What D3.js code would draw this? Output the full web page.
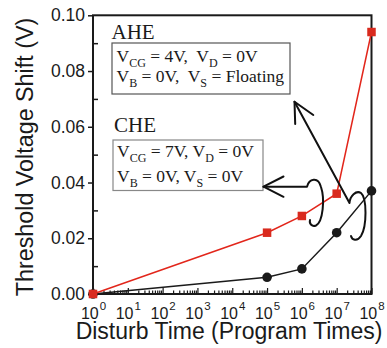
<!DOCTYPE html>
<html>
<head>
<meta charset="utf-8">
<script src="https://cdn.jsdelivr.net/npm/d3@7/dist/d3.min.js"></script>
<style>
  html, body { margin: 0; padding: 0; background: #fff; }
  svg { display: block; }
  text { white-space: pre; }
</style>
</head>
<body>
<svg id="chart" width="387" height="348"></svg>
<script>
// Disturb time (number of program operations) for each measurement
const disturbTimes = [1, 1e5, 1e6, 1e7, 1e8];
// Threshold voltage shift (V) under anode hot-electron (AHE) disturb
const aheShift = [0.000, 0.022, 0.028, 0.036, 0.094];
// Threshold voltage shift (V) under channel hot-electron (CHE) disturb
const cheShift = [0.000, 0.006, 0.009, 0.022, 0.037];
// Axis ticks
const xDecades = [0, 1, 2, 3, 4, 5, 6, 7, 8];
const yMajorTicks = [0.00, 0.02, 0.04, 0.06, 0.08, 0.10];
const yMinorTicks = [0.01, 0.03, 0.05, 0.07, 0.09];

const W = 387, H = 348;
const margin = { left: 93, right: 15.5, top: 15.3, bottom: 54 };
const plotW = W - margin.left - margin.right;
const plotH = H - margin.top - margin.bottom;

const svg = d3.select("#chart");
const g = svg.append("g").attr("transform", `translate(${margin.left},${margin.top})`);

const x = d3.scaleLog().domain([1, 1e8]).range([0, plotW]);
const y = d3.scaleLinear().domain([0, 0.10]).range([plotH, 0]);

const axisColor = "#1a1a1a";
const sans = "'Liberation Sans', Arial, Helvetica, sans-serif";
const serif = "'Liberation Serif', 'Times New Roman', Times, serif";

// Bottom axis: major decade ticks and minor ticks, all pointing inward
const minorX = [];
for (let d = 0; d < 8; d++) for (let k = 2; k <= 9; k++) minorX.push(k * Math.pow(10, d));

const xMajorAxis = d3.axisBottom(x)
  .tickValues(xDecades.map(d => Math.pow(10, d)))
  .tickSizeInner(-6).tickSizeOuter(0).tickFormat("");
const xMinorAxis = d3.axisBottom(x)
  .tickValues(minorX).tickSizeInner(-3.5).tickSizeOuter(0).tickFormat("");

const gxMinor = g.append("g").attr("transform", `translate(0,${plotH})`).call(xMinorAxis);
const gxMajor = g.append("g").attr("transform", `translate(0,${plotH})`).call(xMajorAxis);
[gxMinor, gxMajor].forEach(a => {
  a.select(".domain").remove();
  a.selectAll(".tick line").attr("stroke", axisColor).attr("stroke-width", 1.2);
});

// Decade labels written as 10 with a superscript exponent
const xLabels = g.append("g").attr("font-family", sans);
xDecades.forEach(d => {
  const t = xLabels.append("text")
    .attr("x", x(Math.pow(10, d)) + 0.5)
    .attr("y", plotH + 25)
    .attr("text-anchor", "middle")
    .attr("fill", "#1a1a1a");
  t.append("tspan").attr("font-size", 16).text("10");
  t.append("tspan").attr("font-size", 11.5).attr("dy", -9).attr("dx", 1).text(String(d));
});

// Left axis: outward major ticks with labels, inward minor ticks
const yMajorAxis = d3.axisLeft(y).tickValues(yMajorTicks)
  .tickSizeInner(5).tickSizeOuter(0).tickPadding(3).tickFormat(d3.format(".2f"));
const yMinorAxis = d3.axisLeft(y).tickValues(yMinorTicks)
  .tickSizeInner(-5).tickSizeOuter(0).tickFormat("");
const gyMinor = g.append("g").call(yMinorAxis);
const gyMajor = g.append("g").call(yMajorAxis);
[gyMinor, gyMajor].forEach(a => {
  a.select(".domain").remove();
  a.selectAll(".tick line").attr("stroke", axisColor).attr("stroke-width", 1.5);
});
gyMajor.selectAll(".tick text")
  .attr("font-family", sans).attr("font-size", 17.5).attr("fill", "#1a1a1a");

// Frame
g.append("rect")
  .attr("x", 0).attr("y", 0).attr("width", plotW).attr("height", plotH)
  .attr("fill", "none").attr("stroke", axisColor).attr("stroke-width", 2);

// Axis titles
svg.append("text")
  .attr("transform", `translate(33,157) rotate(-90)`)
  .attr("text-anchor", "middle")
  .attr("font-family", sans).attr("font-size", 23.3).attr("fill", "#1a1a1a")
  .text("Threshold Voltage Shift (V)");
svg.append("text")
  .attr("x", 229).attr("y", 339)
  .attr("text-anchor", "middle")
  .attr("font-family", sans).attr("font-size", 23).attr("fill", "#1a1a1a")
  .text("Disturb Time (Program Times)");

// Series
const cheData = disturbTimes.map((t, i) => ({ t, v: cheShift[i] }));
const aheData = disturbTimes.map((t, i) => ({ t, v: aheShift[i] }));
const line = d3.line().x(d => x(d.t)).y(d => y(d.v));

const lineRed = "#e2261b", markRed = "#d92a1e";

g.append("path").datum(cheData)
  .attr("fill", "none").attr("stroke", "#1a1a1a").attr("stroke-width", 1.5)
  .attr("d", line);
g.selectAll("circle.che").data(cheData).enter().append("circle")
  .attr("class", "che")
  .attr("cx", d => x(d.t)).attr("cy", d => y(d.v)).attr("r", 4.8)
  .attr("fill", "#1a1a1a");

g.append("path").datum(aheData)
  .attr("fill", "none").attr("stroke", lineRed).attr("stroke-width", 1.5)
  .attr("d", line);
const sq = 8.5;
g.selectAll("rect.ahe").data(aheData).enter().append("rect")
  .attr("class", "ahe")
  .attr("x", d => x(d.t) - sq / 2).attr("y", d => y(d.v) - sq / 2)
  .attr("width", sq).attr("height", sq)
  .attr("fill", markRed);

// Bias-condition text: normal runs and lowered subscripts
function biasLine(sel, px, py, parts) {
  const t = sel.append("text").attr("x", px).attr("y", py)
    .attr("font-family", serif).attr("font-size", 17.5).attr("fill", "#1a1a1a");
  let shift = 0;
  parts.forEach(p => {
    if (p.sub) {
      t.append("tspan").attr("font-size", 12).attr("dy", 4.5 - shift).text(p.sub);
      shift = 4.5;
    } else {
      t.append("tspan").attr("dy", -shift).text(p.txt);
      shift = 0;
    }
  });
}

const ann = svg.append("g");
ann.append("text").attr("x", 111.5).attr("y", 39)
  .attr("font-family", serif).attr("font-size", 21).attr("fill", "#1a1a1a").text("AHE");
ann.append("rect").attr("x", 112).attr("y", 43).attr("width", 178).attr("height", 51)
  .attr("fill", "#fff").attr("stroke", "#555").attr("stroke-width", 1.2);
biasLine(ann, 116.5, 62, [{ txt: "V" }, { sub: "CG" }, { txt: " = 4V,  V" }, { sub: "D" }, { txt: " = 0V" }]);
biasLine(ann, 116.5, 82, [{ txt: "V" }, { sub: "B" }, { txt: " = 0V,  V" }, { sub: "S" }, { txt: " = Floating" }]);

ann.append("text").attr("x", 114).attr("y", 132)
  .attr("font-family", serif).attr("font-size", 21).attr("fill", "#1a1a1a").text("CHE");
ann.append("rect").attr("x", 113).attr("y", 140).attr("width", 150).attr("height", 50.5)
  .attr("fill", "#fff").attr("stroke", "#888").attr("stroke-width", 1.2);
biasLine(ann, 117, 157, [{ txt: "V" }, { sub: "CG" }, { txt: " = 7V, V" }, { sub: "D" }, { txt: " = 0V" }]);
biasLine(ann, 117, 182, [{ txt: "V" }, { sub: "B" }, { txt: " = 0V, V" }, { sub: "S" }, { txt: " = 0V" }]);

// Curled arrows pointing from the curves to their condition boxes
const arrowStyle = s => s.attr("fill", "none").attr("stroke", "#111")
  .attr("stroke-width", 2).attr("stroke-linecap", "round").attr("stroke-linejoin", "round");

// CHE arrow: curl around the upper curve, horizontal shaft, open head
ann.append("path").call(arrowStyle)
  .attr("d", "M263.5,186.7 L307,186.7 C309,179 318,176 321,187 C325,199 323,222 316,225.5 C312,227 309,224 310,220");
ann.append("path").call(arrowStyle)
  .attr("d", "M283.5,176.5 L263.5,186.7 L283.5,196.8");

// AHE arrow: curl near the high-time points, diagonal shaft, open head
ann.append("path").call(arrowStyle)
  .attr("d", "M294.5,101.7 L349.5,203 C350,196 356,190 361,193 C367,198 367,226 361,236 C357,242 352,240 351,236");
ann.append("path").call(arrowStyle)
  .attr("d", "M295.2,124 L294.5,101.7 L313.3,115");
</script>
</body>
</html>
